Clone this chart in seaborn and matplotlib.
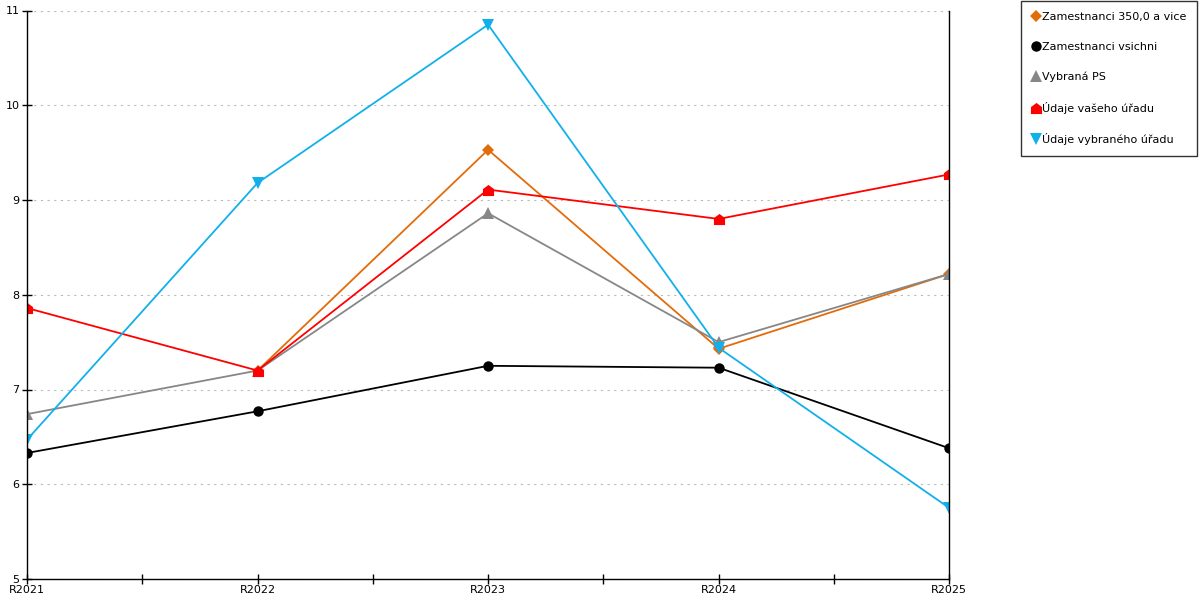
import numpy as np
import pandas as pd
import seaborn as sns
import matplotlib
matplotlib.use("Agg")
from matplotlib import pyplot as plt
from matplotlib.lines import Line2D

years = ["R2021", "R2022", "R2023", "R2024", "R2025"]

zam_350 = [np.nan, 7.20, 9.53, 7.43, 8.22]
zam_vsichni = [6.33, 6.77, 7.25, 7.23, 6.38]
vybrana_ps = [6.74, 7.20, 8.86, 7.50, 8.22]
udaje_vaseho = [7.86, 7.20, 9.11, 8.80, 9.27]
udaje_vybraneho = [6.47, 9.18, 10.85, 7.44, 5.75]

house = [(-1, -1), (1, -1), (1, 0.25), (0, 1), (-1, 0.25), (-1, -1)]

series = [
    ("Zamestnanci 350,0 a vice", zam_350, "#e36c0a", "D", 6.3),
    ("Zamestnanci vsichni", zam_vsichni, "#000000", "o", 7.5),
    ("Vybraná PS", vybrana_ps, "#878787", "^", 8),
    ("Údaje vašeho úřadu", udaje_vaseho, "#ff0000", house, 8),
    ("Údaje vybraného úřadu", udaje_vybraneho, "#12b0ea", "v", 8),
]

sns.set_style("white")
plt.rcParams["font.family"] = ["DejaVu Sans"]
plt.rcParams["text.color"] = "black"
plt.rcParams["xtick.color"] = "black"
plt.rcParams["ytick.color"] = "black"

fig = plt.figure(figsize=(12, 6), dpi=100)
ax = fig.add_axes([0.0225, 0.035, 0.7685, 0.9475])

x = np.arange(len(years))
handles = []
for label, vals, color, mk, ms in series:
    df = pd.DataFrame({"x": x, "y": vals}).dropna()
    sns.lineplot(data=df, x="x", y="y", ax=ax, color=color, linewidth=1.3,
                 marker=mk, markersize=ms, markeredgewidth=0, legend=False)
    handles.append(Line2D([], [], linestyle="none", marker=mk, color=color,
                          markersize=ms, markeredgewidth=0, label=label))

ax.set_xlim(0, len(years) - 1)
ax.set_ylim(5, 11)
ax.set_xticks(x)
ax.set_xticklabels(years, fontsize=8)
ax.set_xticks(np.arange(0.5, len(years) - 1, 1), minor=True)
ax.set_yticks(range(5, 12))
ax.set_yticklabels([str(v) for v in range(5, 12)], fontsize=8)
ax.tick_params(axis="both", which="both", direction="inout", length=7,
               width=1, color="black", labelcolor="black",
               bottom=True, left=True, pad=1)
ax.tick_params(axis="y", pad=2)
ax.set_xlabel("")
ax.set_ylabel("")
ax.grid(axis="y", linestyle=(0, (2, 4)), color="#bbbbbb", linewidth=0.8)
ax.grid(axis="x", visible=False)
for side in ["left", "bottom", "right"]:
    ax.spines[side].set_visible(True)
    ax.spines[side].set_color("black")
    ax.spines[side].set_linewidth(1)
ax.spines["top"].set_visible(False)

leg = fig.legend(handles=handles, loc="upper left", bbox_to_anchor=(0.851, 0.998),
                 frameon=True, fancybox=False, edgecolor="black", fontsize=8.0,
                 labelspacing=1.78, handletextpad=0.25, handlelength=0.7,
                 borderpad=0.95, borderaxespad=0)
leg.get_frame().set_linewidth(1)

fig.savefig("out.png", dpi=100)
